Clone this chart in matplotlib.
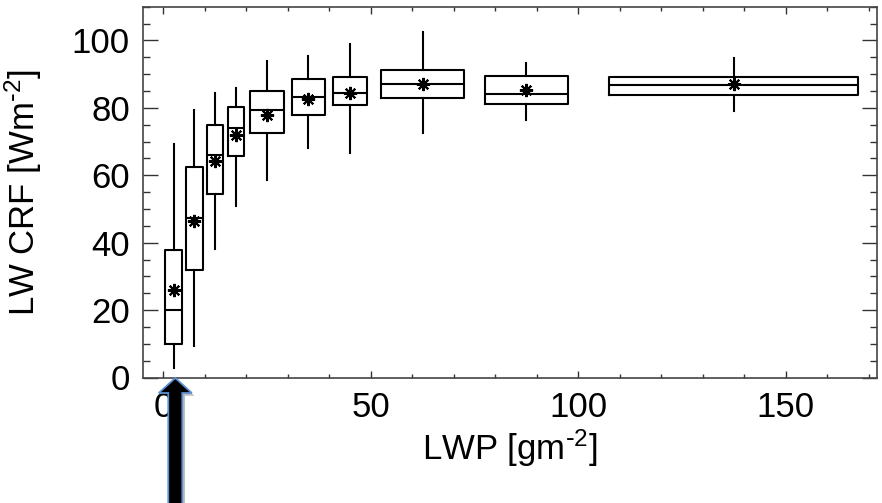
import matplotlib
matplotlib.use("Agg")
import matplotlib.pyplot as plt
import matplotlib.patches as mpatches
import matplotlib.transforms as mtrans
import matplotlib.patheffects as pe
from matplotlib.ticker import MultipleLocator

plt.rcParams['font.family'] = ['Liberation Sans', 'DejaVu Sans']
plt.rcParams['mathtext.default'] = 'regular'

# LWP bin centres and box widths
centers = [2.5, 7.5, 12.5, 17.5, 25, 35, 45, 62.5, 87.5, 137.5]
widths = [4, 4, 4, 4, 8, 8, 8, 20, 20, 60]
# statistics of LW CRF per bin
whisk_lo = [2.9, 9.4, 38.1, 50.8, 58.7, 68.1, 66.7, 72.5, 76.4, 79.2]
q1 = [9.8, 31.9, 54.5, 65.7, 72.5, 77.9, 80.9, 82.8, 81.2, 83.8]
median = [19.9, 47.2, 66.0, 74.0, 79.4, 83.1, 84.3, 87.1, 84.1, 86.7]
q3 = [37.8, 62.3, 74.8, 80.1, 85.0, 88.6, 89.2, 91.1, 89.3, 89.1]
whisk_hi = [69.2, 79.3, 84.4, 85.9, 93.9, 95.5, 99.0, 102.5, 93.2, 94.8]
mean = [25.9, 46.4, 64.3, 71.9, 77.9, 82.6, 84.4, 87.1, 85.4, 87.2]

xticks = [0, 50, 100, 150]
yticks = [0, 20, 40, 60, 80, 100]

W, H = 882, 503
fig = plt.figure(figsize=(W / 100, H / 100), dpi=100)
ax = fig.add_axes([142.5 / W, 1 - 377.5 / H, (877 - 142.5) / W, (377.5 - 6.7) / H])

stats = []
for c, w, lo, a, m, b, hi, mn in zip(centers, widths, whisk_lo, q1, median, q3, whisk_hi, mean):
    stats.append(dict(med=m, q1=a, q3=b, whislo=lo, whishi=hi, mean=mn, fliers=[]))

lw = 1.5
ax.bxp(stats, positions=centers, widths=widths, showcaps=False, showfliers=False,
       showmeans=True, manage_ticks=False,
       boxprops=dict(color='black', linewidth=lw),
       medianprops=dict(color='black', linewidth=lw),
       whiskerprops=dict(color='black', linewidth=lw),
       meanprops=dict(marker=(8, 2, 0), markersize=9.5, markeredgewidth=1.5,
                      markeredgecolor='black', markerfacecolor='black', linestyle='none'))

ax.set_xlim(-5, 172)
ax.set_ylim(0, 110)
ax.set_xticks(xticks)
ax.set_yticks(yticks)
ax.xaxis.set_minor_locator(MultipleLocator(10))
ax.yaxis.set_minor_locator(MultipleLocator(5))
ax.tick_params(axis='x', which='major', direction='in', length=5.3, width=1, top=True,
               labelsize=25, pad=10, color='#333333')
ax.tick_params(axis='x', which='minor', direction='in', length=2.7, width=1, top=True,
               color='#333333')
ax.tick_params(axis='y', which='major', direction='in', length=10.6, width=1, right=True,
               labelsize=25, pad=9, color='#333333')
ax.tick_params(axis='y', which='minor', direction='in', length=5.3, width=1, right=True,
               color='#333333')
for s in ax.spines.values():
    s.set_linewidth(1.2)
    s.set_color('#444444')

ax.set_xlabel(r'LWP [gm$^{\text{-}2}$]', fontsize=25, labelpad=2)
ax.set_ylabel(r'LW CRF [Wm$^{\text{-}2}$]', fontsize=25, labelpad=20)

# annotation arrow pointing at the first bin
trans = mtrans.blended_transform_factory(ax.transData, fig.transFigure)
tip_x = 2.9
tip_y = 1 - 378 / H
arrow = mpatches.FancyArrow(tip_x, -0.05, 0, tip_y + 0.05, width=14 / 4.148,
                            head_width=33 / 4.148, head_length=15 / H,
                            length_includes_head=True, transform=trans,
                            facecolor='black', edgecolor='#5b8fd0', linewidth=1.3,
                            clip_on=False, zorder=10)
arrow.set_path_effects([pe.SimplePatchShadow(offset=(2, -2), alpha=0.25), pe.Normal()])
fig.add_artist(arrow)

fig.savefig('out.png', dpi=100)
